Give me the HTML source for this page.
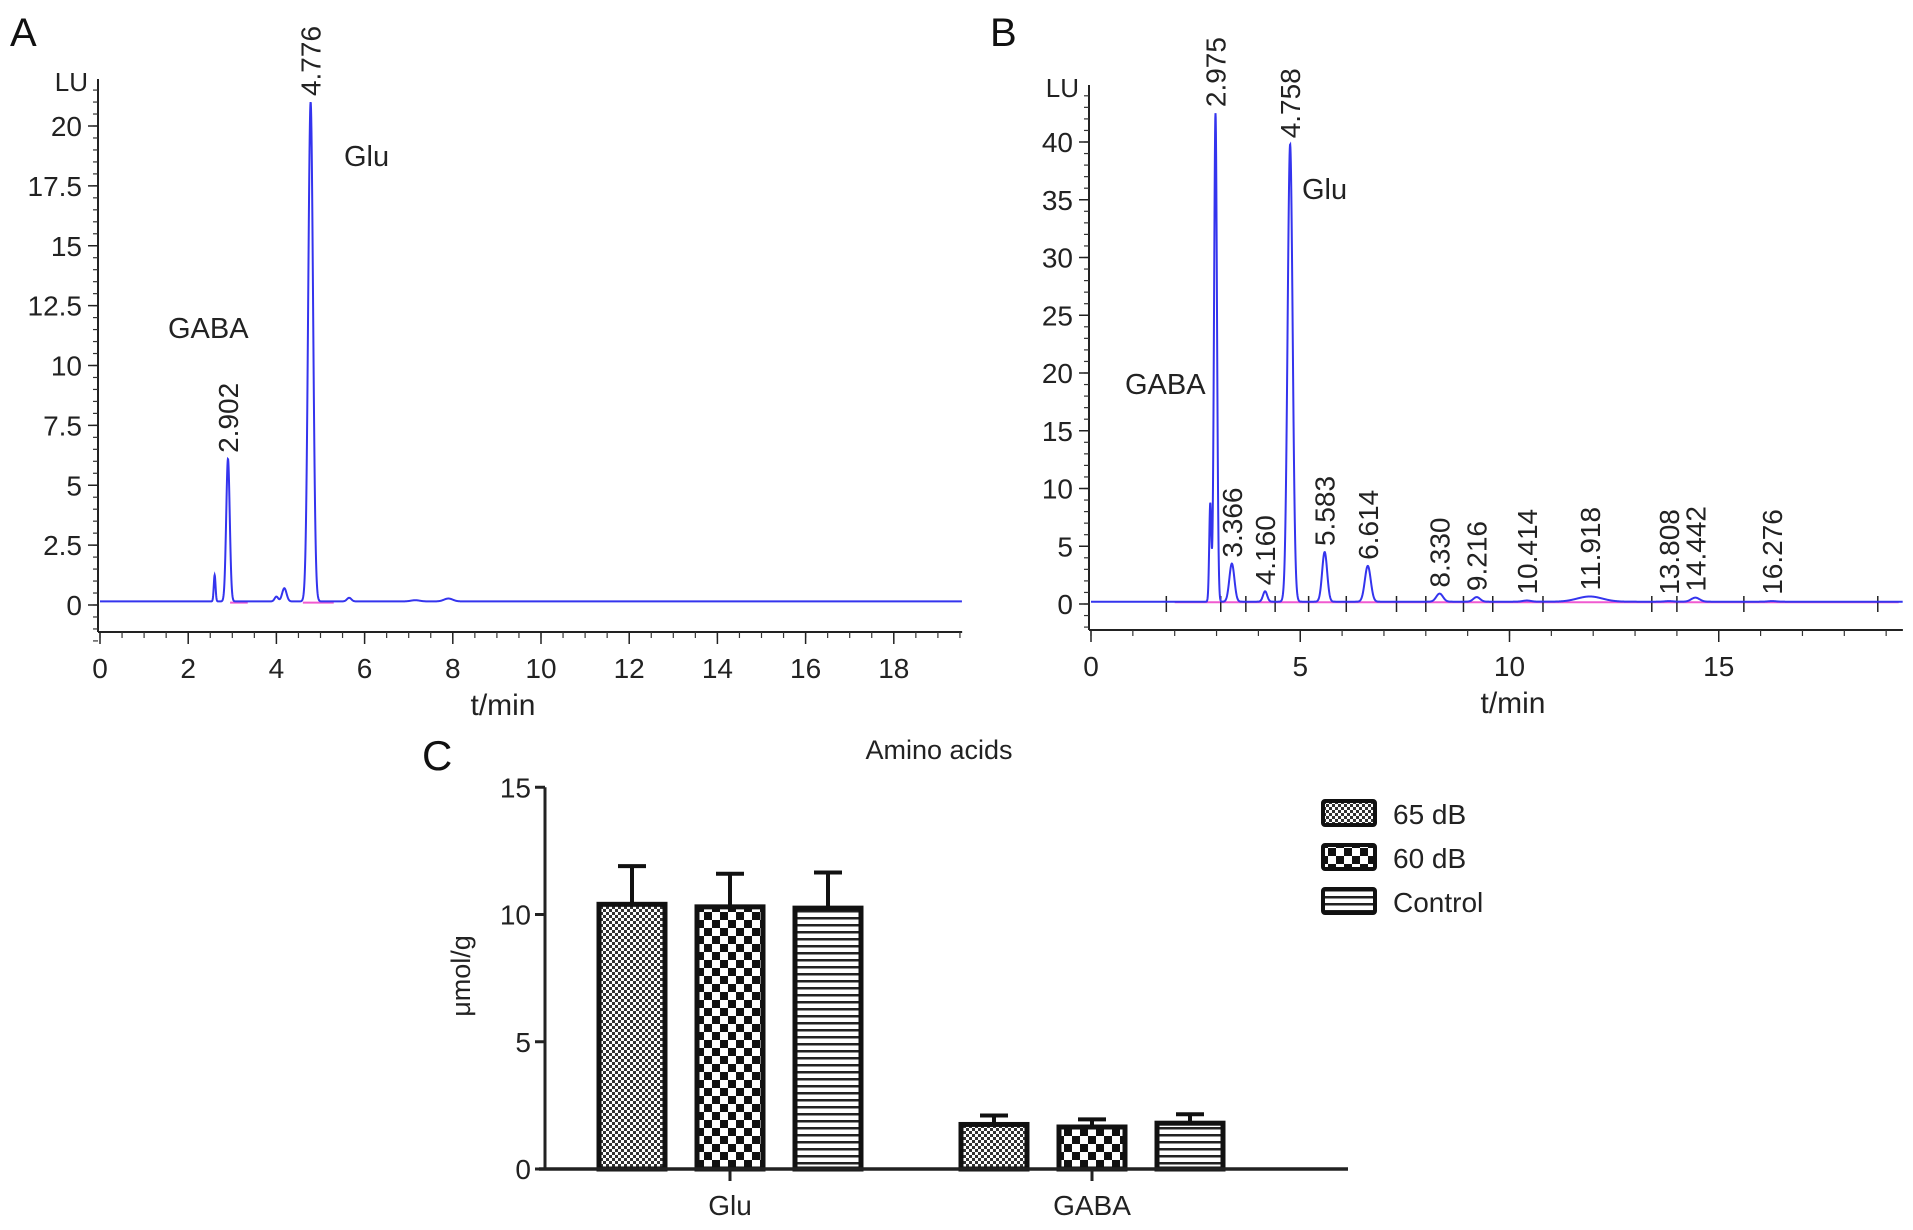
<!DOCTYPE html>
<html><head><meta charset="utf-8"><style>
html,body{margin:0;padding:0;background:#fff;}
svg{display:block;font-family:"Liberation Sans",sans-serif;}
</style></head><body>
<svg id="fig" width="1913" height="1230" viewBox="0 0 1913 1230" xmlns="http://www.w3.org/2000/svg">
<defs>
<pattern id="pFine" width="6" height="6" patternUnits="userSpaceOnUse"><rect width="6" height="6" fill="#fff"/><rect width="3" height="3" fill="#333"/><rect x="3" y="3" width="3" height="3" fill="#333"/></pattern>
<pattern id="pChk" width="16" height="16" patternUnits="userSpaceOnUse"><rect width="16" height="16" fill="#fff"/><rect width="8" height="8" fill="#111"/><rect x="8" y="8" width="8" height="8" fill="#111"/></pattern>
<pattern id="pStr" width="8" height="7" patternUnits="userSpaceOnUse"><rect width="8" height="7" fill="#fff"/><rect y="0" width="8" height="2.5" fill="#222"/></pattern>
</defs>
<g id="panelA"></g>
<g id="panelB"></g>
<g id="panelC"></g>
</svg>
<script>
// ---- Panel A data ----
const peakTimesA = [2.6, 2.902, 4.0, 4.18, 4.776, 5.65, 7.15, 7.9];
const peakHeightsA = [1.1, 5.95, 0.2, 0.55, 20.85, 0.15, 0.05, 0.12];
const peakWidthsA = [0.02, 0.04, 0.04, 0.05, 0.055, 0.05, 0.1, 0.1];
const peakLabelsA = ["", "2.902", "", "", "4.776", "", "", ""];
const yTicksA = [0, 2.5, 5, 7.5, 10, 12.5, 15, 17.5, 20];
const xTicksA = [0, 2, 4, 6, 8, 10, 12, 14, 16, 18];
// ---- Panel B data ----
const peakTimesB = [2.85, 2.975, 3.366, 4.160, 4.758, 5.583, 6.614, 8.330, 9.216, 10.414, 11.918, 13.808, 14.442, 16.276];
const peakHeightsB = [8.5, 42.3, 3.3, 0.9, 39.6, 4.3, 3.1, 0.7, 0.4, 0.1, 0.45, 0.05, 0.35, 0.05];
const peakWidthsB = [0.025, 0.035, 0.06, 0.05, 0.06, 0.06, 0.07, 0.08, 0.08, 0.1, 0.3, 0.1, 0.1, 0.1];
const peakLabelsB = ["", "2.975", "3.366", "4.160", "4.758", "5.583", "6.614", "8.330", "9.216", "10.414", "11.918", "13.808", "14.442", "16.276"];
const yTicksB = [0, 5, 10, 15, 20, 25, 30, 35, 40];
const xTicksB = [0, 5, 10, 15];
const integMarksB = [1.8, 3.1, 3.7, 4.4, 5.2, 6.1, 7.3, 8.0, 8.9, 9.6, 10.8, 13.4, 14.0, 15.6, 18.8];
// ---- Panel C data ----
const categoriesC = ["Glu", "GABA"];
const seriesNamesC = ["65 dB", "60 dB", "Control"];
const values65 = [10.4, 1.75];
const values60 = [10.3, 1.65];
const valuesCtl = [10.25, 1.8];
const err65 = [1.5, 0.35];
const err60 = [1.3, 0.3];
const errCtl = [1.4, 0.35];
const yTicksC = [0, 5, 10, 15];

const NS = "http://www.w3.org/2000/svg";
function mk(parent, tag, attrs, txt) {
  const e = document.createElementNS(NS, tag);
  for (const k in attrs) e.setAttribute(k, attrs[k]);
  if (txt !== undefined) e.textContent = txt;
  parent.appendChild(e);
  return e;
}

function chromatogram(g, cfg) {
  const X = t => cfg.x0 + t * cfg.pxPerMin;
  const Y = v => cfg.y0 - v * cfg.pxPerUnit;
  // panel letter
  let t = mk(g, "text", {x: cfg.letterX, y: 46, "font-size": 40, fill: "#111"}, cfg.letter);
  
  
  // y axis
  let l = mk(g, "line", {x1: cfg.x0 - 2, y1: cfg.axisTop, x2: cfg.x0 - 2, y2: cfg.axisY, stroke: "#222", "stroke-width": 2});
  
  
  for (let v = cfg.yMinorStart; Y(v) >= cfg.axisTop; v += cfg.yMinor) {
    mk(g, "line", {x1: cfg.x0 - 7, y1: Y(v), x2: cfg.x0 - 2, y2: Y(v), stroke: "#333", "stroke-width": 1.2});
  }
  cfg.yTicks.forEach(v => {
    mk(g, "line", {x1: cfg.x0 - 12, y1: Y(v), x2: cfg.x0 - 2, y2: Y(v), stroke: "#222", "stroke-width": 1.5});
    const tt = mk(g, "text", {x: cfg.x0 - 18, y: Y(v) + 10, "font-size": 28, "text-anchor": "end", fill: "#222"}, String(v));
    
    
  });
  const lu = mk(g, "text", {x: cfg.x0 - 12, y: cfg.axisTop + 12, "font-size": 26, "text-anchor": "end", fill: "#222"}, "LU");
  
  
  // x axis
  const xa = mk(g, "line", {x1: cfg.x0 - 2, y1: cfg.axisY, x2: X(cfg.xMax), y2: cfg.axisY, stroke: "#222", "stroke-width": 2});
  
  
  for (let v = 0; v <= cfg.xMax; v += cfg.xMinor) {
    mk(g, "line", {x1: X(v), y1: cfg.axisY, x2: X(v), y2: cfg.axisY + 6, stroke: "#333", "stroke-width": 1.2});
  }
  cfg.xTicks.forEach(v => {
    mk(g, "line", {x1: X(v), y1: cfg.axisY, x2: X(v), y2: cfg.axisY + 12, stroke: "#222", "stroke-width": 1.5});
    const tt = mk(g, "text", {x: X(v), y: cfg.axisY + 46, "font-size": 28, "text-anchor": "middle", fill: "#222"}, String(v));
    
    
  });
  const xt = mk(g, "text", {x: cfg.xTitleX, y: cfg.axisY + 83, "font-size": 30, "text-anchor": "middle", fill: "#222"}, "t/min");
  
  
  // baseline (pink)
  cfg.pink.forEach(seg => {
    mk(g, "line", {x1: X(seg[0]), y1: Y(cfg.base - 0.05), x2: X(seg[1]), y2: Y(cfg.base - 0.05), stroke: "#f05ad0", "stroke-width": 2});
  });
  (cfg.marks || []).forEach(m => {
    mk(g, "line", {x1: X(m), y1: Y(0) - 8, x2: X(m), y2: Y(0) + 8, stroke: "#222", "stroke-width": 1.5});
  });
  // trace
  let d = "";
  for (let tm = 0; tm <= cfg.xMax; tm += 0.005) {
    let v = cfg.base;
    for (let i = 0; i < cfg.times.length; i++) {
      const z = (tm - cfg.times[i]) / cfg.widths[i];
      v += cfg.heights[i] * Math.exp(-0.5 * z * z);
    }
    d += (d ? "L" : "M") + X(tm).toFixed(2) + "," + Y(v).toFixed(2);
  }
  const p = mk(g, "path", {d: d, fill: "none", stroke: "#3434ee", "stroke-width": 2});
  
  
  // peak labels
  cfg.labels.forEach((lab, i) => {
    if (!lab) return;
    const top = Y(cfg.heights[i] + cfg.base);
    const bottom = Math.min(top - 6, Y(0.8));
    const px = X(cfg.times[i]) + 10;
    const tt = mk(g, "text", {transform: `translate(${px},${bottom}) rotate(-90)`, "font-size": 28, fill: "#222"}, lab);
    
    
  });
  cfg.names.forEach(n => {
    const tt = mk(g, "text", {x: n[1], y: n[2], "font-size": 29, fill: "#222"}, n[0]);
    
    
  });
}

chromatogram(document.getElementById("panelA"), {
  letter: "A", letterX: 10, x0: 100, pxPerMin: 44.1, y0: 605, pxPerUnit: 23.95,
  axisTop: 79, axisY: 632, xMax: 19.55, yMinor: 0.5, yMinorStart: -1.5, xMinor: 0.5,
  yTicks: yTicksA, xTicks: xTicksA, xTitleX: 503, base: 0.15,
  times: peakTimesA, heights: peakHeightsA, widths: peakWidthsA, labels: peakLabelsA,
  pink: [[2.95, 3.35], [4.6, 5.3]],
  names: [["Glu", 344, 166], ["GABA", 168, 338]]
});
chromatogram(document.getElementById("panelB"), {
  letter: "B", letterX: 990, x0: 1091, pxPerMin: 41.85, y0: 604, pxPerUnit: 11.55,
  axisTop: 85, axisY: 630, xMax: 19.4, yMinor: 1, yMinorStart: -2, xMinor: 1,
  yTicks: yTicksB, xTicks: xTicksB, xTitleX: 1513, base: 0.2,
  times: peakTimesB, heights: peakHeightsB, widths: peakWidthsB, labels: peakLabelsB,
  pink: [[2.0, 19.3]], marks: integMarksB,
  names: [["Glu", 1302, 199], ["GABA", 1125, 394]]
});

// ---- Panel C ----
(function () {
  const g = document.getElementById("panelC");
  const axX = 545, y0 = 1169, pxU = 25.45;
  const Y = v => y0 - v * pxU;
  const catCenters = [730, 1092];
  const barW = 66, step = 98;
  const series = [values65, values60, valuesCtl];
  const errs = [err65, err60, errCtl];
  const fills = ["url(#pFine)", "url(#pChk)", "url(#pStr)"];
  let t = mk(g, "text", {x: 422, y: 770, "font-size": 42, fill: "#111"}, "C");
  
  
  t = mk(g, "text", {x: 939, y: 759, "font-size": 27, "text-anchor": "middle", fill: "#222"}, "Amino acids");
  
  
  t = mk(g, "text", {transform: "translate(470,976) rotate(-90)", "font-size": 27, "text-anchor": "middle", fill: "#222"}, "μmol/g");
  
  
  let l = mk(g, "line", {x1: axX, y1: Y(15), x2: axX, y2: y0, stroke: "#222", "stroke-width": 3});
  
  
  yTicksC.forEach(v => {
    mk(g, "line", {x1: axX - 10, y1: Y(v), x2: axX, y2: Y(v), stroke: "#222", "stroke-width": 3});
    const tt = mk(g, "text", {x: axX - 14, y: Y(v) + 10, "font-size": 28, "text-anchor": "end", fill: "#222"}, String(v));
    
    
  });
  series.forEach((vals, s) => {
    vals.forEach((v, c) => {
      const cx = catCenters[c] + (s - 1) * step;
      const top = Y(v), et = Y(v + errs[s][c]);
      mk(g, "line", {x1: cx, y1: top, x2: cx, y2: et, stroke: "#111", "stroke-width": 4});
      mk(g, "line", {x1: cx - 14, y1: et, x2: cx + 14, y2: et, stroke: "#111", "stroke-width": 4});
      const r = mk(g, "rect", {x: cx - barW / 2, y: top, width: barW, height: y0 - top, fill: fills[s], stroke: "#111", "stroke-width": 5});
      
      
    });
  });
  l = mk(g, "line", {x1: axX - 6, y1: y0, x2: 1348, y2: y0, stroke: "#222", "stroke-width": 3.5});
  
  
  categoriesC.forEach((c, i) => {
    mk(g, "line", {x1: catCenters[i], y1: y0, x2: catCenters[i], y2: y0 + 12, stroke: "#222", "stroke-width": 3});
    const tt = mk(g, "text", {x: catCenters[i], y: y0 + 46, "font-size": 28, "text-anchor": "middle", fill: "#222"}, c);
    
    
  });
  seriesNamesC.forEach((n, i) => {
    const ly = 801 + i * 44;
    const r = mk(g, "rect", {x: 1323, y: ly, width: 52, height: 24, fill: fills[i], stroke: "#111", "stroke-width": 4, rx: 2});
    
    
    const tt = mk(g, "text", {x: 1393, y: ly + 23, "font-size": 28, fill: "#222"}, n);
    
    
  });
})();
</script>
</body></html>
